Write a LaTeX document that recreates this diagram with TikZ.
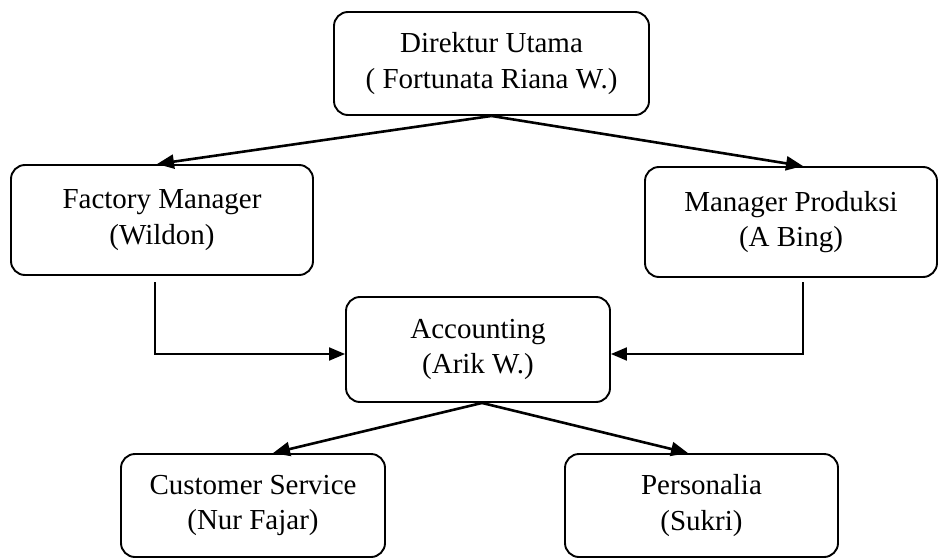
\documentclass[tikz,border=0pt]{standalone}
\usepackage{fontspec}
\setmainfont{Liberation Serif}
\usetikzlibrary{arrows.meta}
\begin{document}
\begin{tikzpicture}[x=1pt,y=-1pt,
  orgbox/.style={draw, line width=1.9pt, rounded corners=14pt, align=center, inner sep=0pt,
    font=\fontsize{29}{35.5}\selectfont},
  arr/.style={line width=2.6pt, -{Triangle[length=17pt,width=14pt]}},
  elb/.style={line width=2pt, -{Triangle[length=16pt,width=13pt]}}]
\useasboundingbox (0,0) rectangle (939,559);
\node[orgbox, minimum width=315pt, minimum height=103pt] (dir) at (491.5,63.5) {Direktur Utama\\( Fortunata Riana W.)};
\node[orgbox, minimum width=302pt, minimum height=110pt] (fm) at (162,220) {Factory Manager\\(Wildon)};
\node[orgbox, minimum width=292pt, minimum height=110pt] (mp) at (791,222) {Manager Produksi\\(A Bing)};
\node[orgbox, minimum width=264pt, minimum height=105pt] (acc) at (478,349.5) {Accounting\\(Arik W.)};
\node[orgbox, minimum width=264pt, minimum height=103pt] (cs) at (253,505.5) {Customer Service\\(Nur Fajar)};
\node[orgbox, minimum width=273pt, minimum height=103pt] (ps) at (701.5,505.5) {Personalia\\(Sukri)};
\coordinate (fmout) at (155,282);
\coordinate (mpout) at (803,282);
\draw[arr] (dir.south) -- ([xshift=-5pt]fm.north);
\draw[arr] (dir.south) -- ([xshift=12pt]mp.north);
\draw[elb] (fmout) |- ([yshift=-4.5pt]acc.west);
\draw[elb] (mpout) |- ([yshift=-4.5pt]acc.east);
\draw[arr] ([xshift=4pt]acc.south) -- ([xshift=20pt]cs.north);
\draw[arr] ([xshift=4pt]acc.south) -- ([xshift=-13.5pt]ps.north);
\end{tikzpicture}
\end{document}
